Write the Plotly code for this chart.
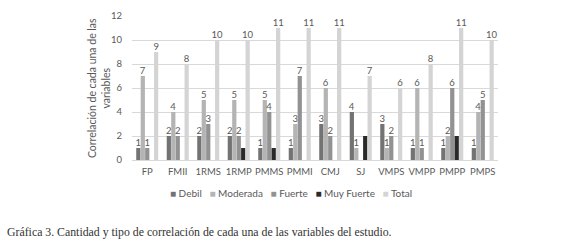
import plotly.graph_objects as go

categories = ["FP", "FMII", "1RMS", "1RMP", "PMMS", "PMMI", "CMJ", "SJ", "VMPS", "VMPP", "PMPP", "PMPS"]
debil      = [1, 2, 2, 2, 1, 1, 3, 4, 3, 1, 1, 1]
moderada   = [7, 4, 5, 5, 5, 3, 6, 1, 1, 6, 2, 4]
fuerte     = [1, 2, 3, 2, 4, 7, 2, None, 2, 1, 6, 5]
muy_fuerte = [None, None, None, 1, 1, None, None, 2, None, None, 2, None]
total      = [9, 8, 10, 10, 11, 11, 11, 7, 6, 8, 11, 10]

series_names = ["Debil", "Moderada", "Fuerte", "Muy Fuerte", "Total"]
series_values = [debil, moderada, fuerte, muy_fuerte, total]
series_colors = ["#737373", "#b4b4b4", "#929292", "#2a2a2a", "#d4d4d4"]
series_labels = [True, True, True, False, True]

y_title = "Correlación de cada una de las<br>variables"
caption = "Gráfica 3. Cantidad y tipo de correlación de cada una de las variables del estudio."

label_color = "#595959"
font_family = "Lato, 'Open Sans', sans-serif"

fig = go.Figure()
for name, vals, color, show_text in zip(series_names, series_values, series_colors, series_labels):
    fig.add_trace(go.Bar(
        name=name,
        x=categories,
        y=vals,
        marker=dict(color=color, line=dict(width=0)),
        text=[("" if v is None else str(v)) for v in vals] if show_text else None,
        textposition="outside" if show_text else "none",
        textfont=dict(size=9.5, color=label_color, family=font_family),
        constraintext="none",
        cliponaxis=False,
        showlegend=False,
    ))

# compact legend row built from the series names and colours
legend_text = "&nbsp;&nbsp;&nbsp;".join(
    f"<span style='color:{c}'>■</span> {n}" for n, c in zip(series_names, series_colors)
)

fig.update_layout(
    width=580,
    height=242,
    margin=dict(l=132, r=82, t=10, b=82),
    paper_bgcolor="white",
    plot_bgcolor="white",
    barmode="group",
    bargap=0.27,
    bargroupgap=0.05,
    showlegend=False,
    font=dict(family=font_family, color=label_color, size=9.5),
    xaxis=dict(
        showgrid=False,
        showline=True,
        linecolor="#d9d9d9",
        linewidth=1,
        ticks="",
        tickfont=dict(size=9.5, color=label_color),
        ticklabelstandoff=3,
    ),
    yaxis=dict(
        range=[0, 12],
        dtick=2,
        showgrid=True,
        gridcolor="#d9d9d9",
        gridwidth=1,
        zeroline=False,
        showline=False,
        ticks="",
        tickfont=dict(size=9.5, color=label_color),
        ticklabelstandoff=9,
    ),
    annotations=[
        dict(
            text=y_title,
            xref="paper", yref="paper",
            x=-0.09, y=0.5,
            xanchor="center", yanchor="middle",
            textangle=-90,
            showarrow=False,
            font=dict(size=10.5, color=label_color, family=font_family),
        ),
        dict(
            text=legend_text,
            xref="paper", yref="paper",
            x=0.434, y=-0.227,
            xanchor="center", yanchor="middle",
            showarrow=False,
            font=dict(size=10, color=label_color, family=font_family),
        ),
        dict(
            text=caption,
            xref="paper", yref="paper",
            x=-0.347, y=-0.5,
            xanchor="left", yanchor="middle",
            showarrow=False,
            font=dict(family="'Liberation Serif', serif", size=11.8, color="#333333"),
        ),
    ],
)

fig.write_html(
    "out.html",
    config={"displayModeBar": False},
    post_script="document.body.style.margin='0px';",
)
